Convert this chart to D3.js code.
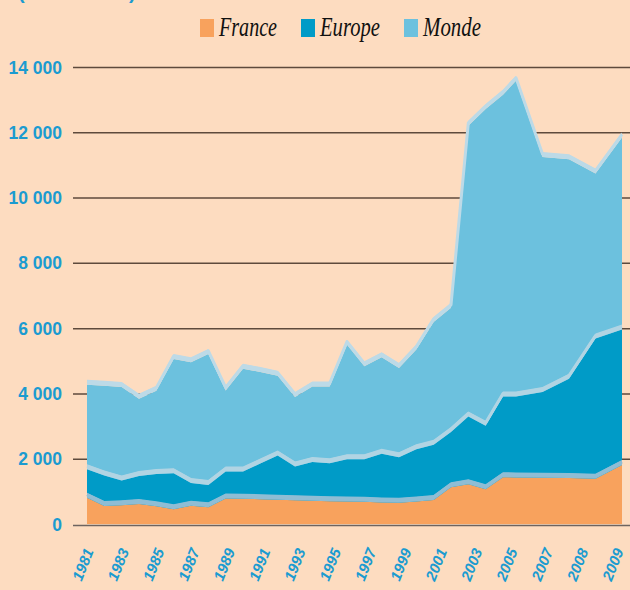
<!DOCTYPE html>
<html>
<head>
<meta charset="utf-8">
<script src="https://cdn.jsdelivr.net/npm/d3@7/dist/d3.min.js"></script>
<style>
  html, body { margin: 0; padding: 0; background: #fddcc0; }
  svg { display: block; }
</style>
</head>
<body>
<svg id="chart" width="630" height="590"></svg>
<script>
// ---- data (cumulative totals) ----
const years = [1980, 1981, 1982, 1983, 1984, 1985, 1986, 1987, 1988, 1989,
               1990, 1991, 1992, 1993, 1994, 1995, 1996, 1997, 1998, 1999,
               2000, 2001, 2002, 2003, 2004, 2005, 2006, 2007, 2008, 2009];
const france = [807, 553, 575, 614, 540, 451, 562, 513, 780, 775,
                760, 745, 730, 715, 700, 690, 680, 660, 650, 690,
                737, 1127, 1219, 1065, 1434, 1428, 1420, 1410, 1390, 1811];
const europe = [1679, 1489, 1335, 1474, 1535, 1556, 1259, 1197, 1606, 1606,
                1851, 2097, 1765, 1903, 1863, 1986, 1986, 2149, 2048, 2293,
                2425, 2815, 3294, 3009, 3908, 3908, 4043, 4452, 5680, 5956];
const monde  = [4267, 4237, 4197, 3838, 4083, 5056, 4952, 5210, 4092, 4759,
                4657, 4544, 3890, 4215, 4215, 5495, 4829, 5105, 4780, 5342,
                6192, 6622, 12197, 12710, 13152, 13579, 11245, 11175, 10736, 11841];
const seriesNames = ["France", "Europe", "Monde"];
const xTickLabels = ["1981", "1983", "1985", "1987", "1989", "1991", "1993", "1995",
                     "1997", "1999", "2001", "2003", "2005", "2007", "2008", "2009"];
const yTicks = [0, 2000, 4000, 6000, 8000, 10000, 12000, 14000];

// ---- style ----
const colors = { France: "#f8a25d", Europe: "#009bc7", Monde: "#6cc1de" };
const bandColors = { France: "#8fbdd4", Europe: "#b1d4e3", Monde: "#bddae7" };
const blue = "#1b9bd0";

const svg = d3.select("#chart");

const x = d3.scaleLinear().domain([1980, 2004, 2005, 2009]).range([87, 503, 516, 622]);
const y = d3.scaleLinear().domain([0, 14000]).range([524, 67]);
const xLab = d3.scalePoint().domain(xTickLabels).range([94, 624]);

// background
svg.append("rect").attr("width", 630).attr("height", 590).attr("fill", "#fddcc0");

// subtitle, cut off at the very top as in the reference
svg.append("text").attr("x", 18).attr("y", -1)
  .attr("font-family", "Liberation Sans, Arial, sans-serif").attr("font-weight", "bold")
  .attr("font-size", 20).attr("fill", blue).text("(en millions)");

// grid lines
svg.append("g").selectAll("line").data(yTicks.filter(d => d > 0)).join("line")
  .attr("x1", 73).attr("x2", 630)
  .attr("y1", d => y(d) + 0.5).attr("y2", d => y(d) + 0.5)
  .attr("stroke", "#5e4a3c").attr("stroke-width", 1.5);

// y labels
svg.append("g").selectAll("text").data(yTicks).join("text")
  .attr("x", 62).attr("y", d => y(d) + 6.5)
  .attr("text-anchor", "end")
  .attr("font-family", "Liberation Sans, Arial, sans-serif")
  .attr("font-weight", "bold").attr("font-size", 17.5)
  .attr("fill", blue)
  .text(d => d === 0 ? "0" : d3.format(",")(d).replace(/,/g, " "));

// areas (overlapping totals, drawn largest first)
const table = { France: france, Europe: europe, Monde: monde };
const order = ["Monde", "Europe", "France"];
const BAND = 5;

order.forEach(name => {
  const vals = table[name];
  const pts = years.map((yr, i) => ({ yr, v: vals[i] }));
  const area = d3.area().x(d => x(d.yr)).y0(y(0)).y1(d => y(d.v));
  svg.append("path").datum(pts).attr("d", area).attr("fill", colors[name]);
  const band = d3.area().x(d => x(d.yr)).y0(d => y(d.v)).y1(d => y(d.v) - BAND);
  svg.append("path").datum(pts).attr("d", band).attr("fill", bandColors[name]);
  const top = d3.line().x(d => x(d.yr)).y(d => y(d.v) - 3);
  svg.append("path").datum(pts).attr("d", top).attr("fill", "none")
    .attr("stroke", bandColors[name]).attr("stroke-width", 3).attr("stroke-linejoin", "round");
});

// baseline axis
svg.append("line").attr("x1", 73).attr("x2", 630)
  .attr("y1", y(0) + 1.5).attr("y2", y(0) + 1.5)
  .attr("stroke", "#6e6460").attr("stroke-width", 1.5);

// x labels
svg.append("g").selectAll("text").data(xTickLabels).join("text")
  .attr("transform", d => `translate(${xLab(d)},551) rotate(-68)`)
  .attr("text-anchor", "end")
  .attr("font-family", "Liberation Sans, Arial, sans-serif")
  .attr("font-style", "italic").attr("font-weight", "bold")
  .attr("font-size", 15)
  .attr("fill", blue)
  .text(d => d);

// legend
const legX = { France: 200, Europe: 301, Monde: 404 };
const legW = { France: 58, Europe: 60, Monde: 58 };
const leg = svg.append("g");
seriesNames.forEach(name => {
  leg.append("rect").attr("x", legX[name]).attr("y", 19).attr("width", 14).attr("height", 18)
    .attr("fill", colors[name]);
  leg.append("text").attr("x", legX[name] + 19).attr("y", 36)
    .attr("font-family", "Liberation Serif, Times New Roman, serif")
    .attr("font-style", "italic").attr("font-size", 27)
    .attr("textLength", legW[name]).attr("lengthAdjust", "spacingAndGlyphs")
    .attr("fill", "#111").text(name);
});
</script>
</body>
</html>
